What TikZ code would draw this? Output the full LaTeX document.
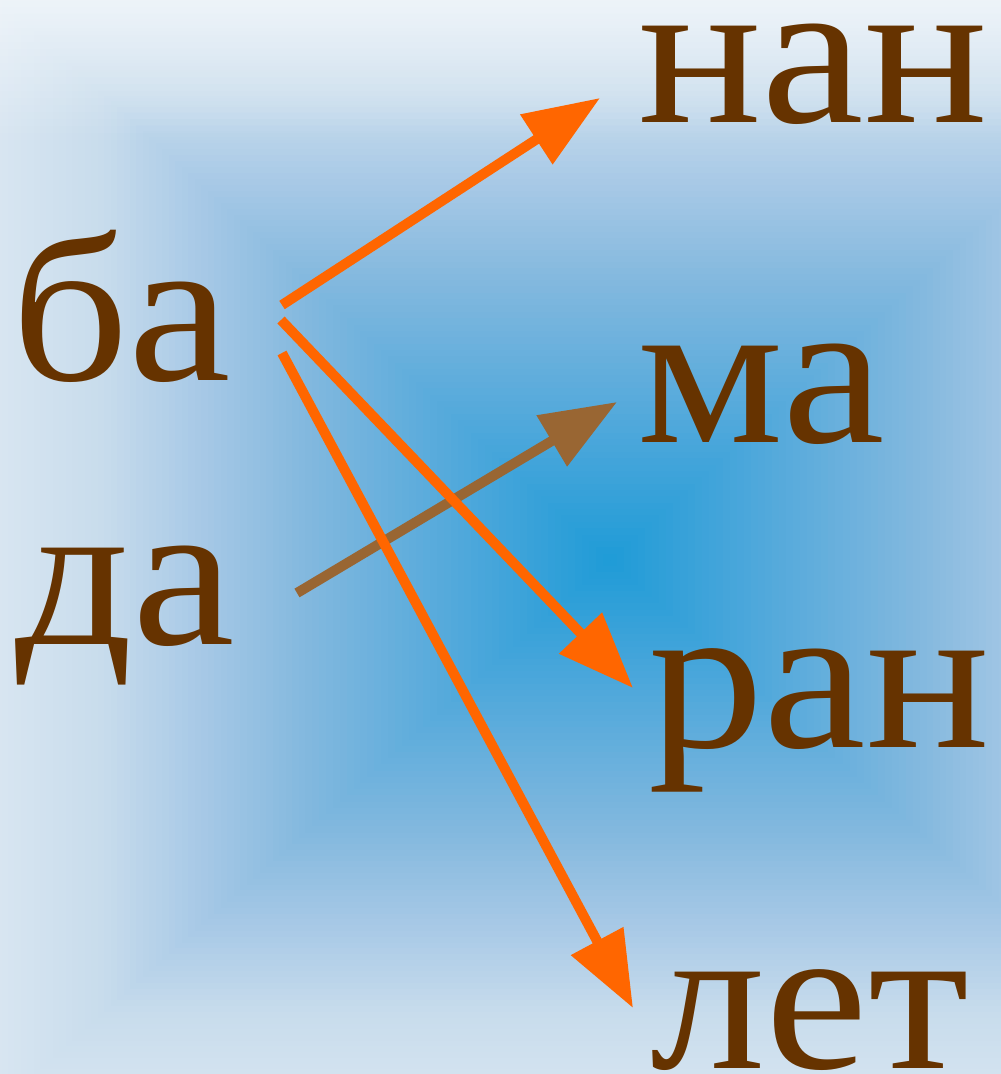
\documentclass[tikz,border=0pt]{standalone}
\usepackage{fontspec}
\setmainfont{Liberation Serif}
\newfontfamily\wordfont[FakeStretch=1.10]{Liberation Serif}
\usetikzlibrary{arrows.meta}
\definecolor{txtbrown}{HTML}{663300}
\definecolor{arrorange}{HTML}{FF6600}
\definecolor{arrbrown}{HTML}{996633}
\definecolor{bgA}{HTML}{DCE8F3}
\definecolor{bgB}{HTML}{C8DCEC}
\definecolor{bgC}{HTML}{A6C8E6}
\definecolor{bgD}{HTML}{82B8DE}
\definecolor{bgE}{HTML}{50A8DB}
\definecolor{bgF}{HTML}{1E9BD7}
\def\bgcx{610}\def\bgcy{560}\def\bgL{610}\def\bgR{620}\def\bgT{560}\def\bgB{545}
\newcommand\bgseg[5]{%
  \foreach \ii in {0,...,#5}{%
    \pgfmathsetmacro\sv{#1+(#2-#1)*\ii/#5}%
    \pgfmathsetmacro\pp{100*\ii/#5}%
    \fill[#4!\pp!#3] ({\bgcx-\sv*\bgL},{\bgcy-\sv*\bgT}) rectangle ({\bgcx+\sv*\bgR},{\bgcy+\sv*\bgB});
  }}
\tikzset{
  word/.style={text=txtbrown, inner sep=0pt, anchor=base west, font=\wordfont\fontsize{210}{210}\selectfont},
  orarrow/.style={draw=arrorange, line width=10pt, -{Triangle[length=76pt,width=57pt]}},
  brarrow/.style={draw=arrbrown, line width=10pt, -{Triangle[length=76pt,width=57pt]}}
}
\begin{document}
\begin{tikzpicture}[x=1pt,y=-1pt]
\useasboundingbox (0,0) rectangle (1001,1074);
\begin{scope}
\clip (0,0) rectangle (1001,1074);
\bgseg{1.05}{0.84}{bgA}{bgB}{20}
\bgseg{0.84}{0.67}{bgB}{bgC}{16}
\bgseg{0.67}{0.5}{bgC}{bgD}{16}
\bgseg{0.5}{0.25}{bgD}{bgE}{22}
\bgseg{0.25}{0.0}{bgE}{bgF}{22}
\foreach \jj in {0,...,19}{%
  \pgfmathsetmacro\op{0.55*(1-\jj/20)}%
  \fill[white, opacity=\op] (0,{\jj*7}) rectangle (1001,{(\jj+1)*7});
}
\end{scope}
\node[word] (nan) at (638,122) {нан};
\node[word] (ba) at (11,380) {ба};
\node[word] (ma) at (637,442) {ма};
\node[word] (da) at (15,644) {да};
\node[word] (ran) at (648,747) {ран};
\node[word] (let) at (650,1068) {лет};
\coordinate (s1) at (282,305);
\coordinate (s2) at (281,320);
\coordinate (s3) at (282,353);
\coordinate (s4) at (297,593);
\coordinate (t1) at (600,98);
\coordinate (t2) at (633,688);
\coordinate (t3) at (633,1008);
\coordinate (t4) at (617,402);
\draw[brarrow] (s4) -- (t4);
\draw[orarrow] (s1) -- (t1);
\draw[orarrow] (s2) -- (t2);
\draw[orarrow] (s3) -- (t3);
\end{tikzpicture}
\end{document}
